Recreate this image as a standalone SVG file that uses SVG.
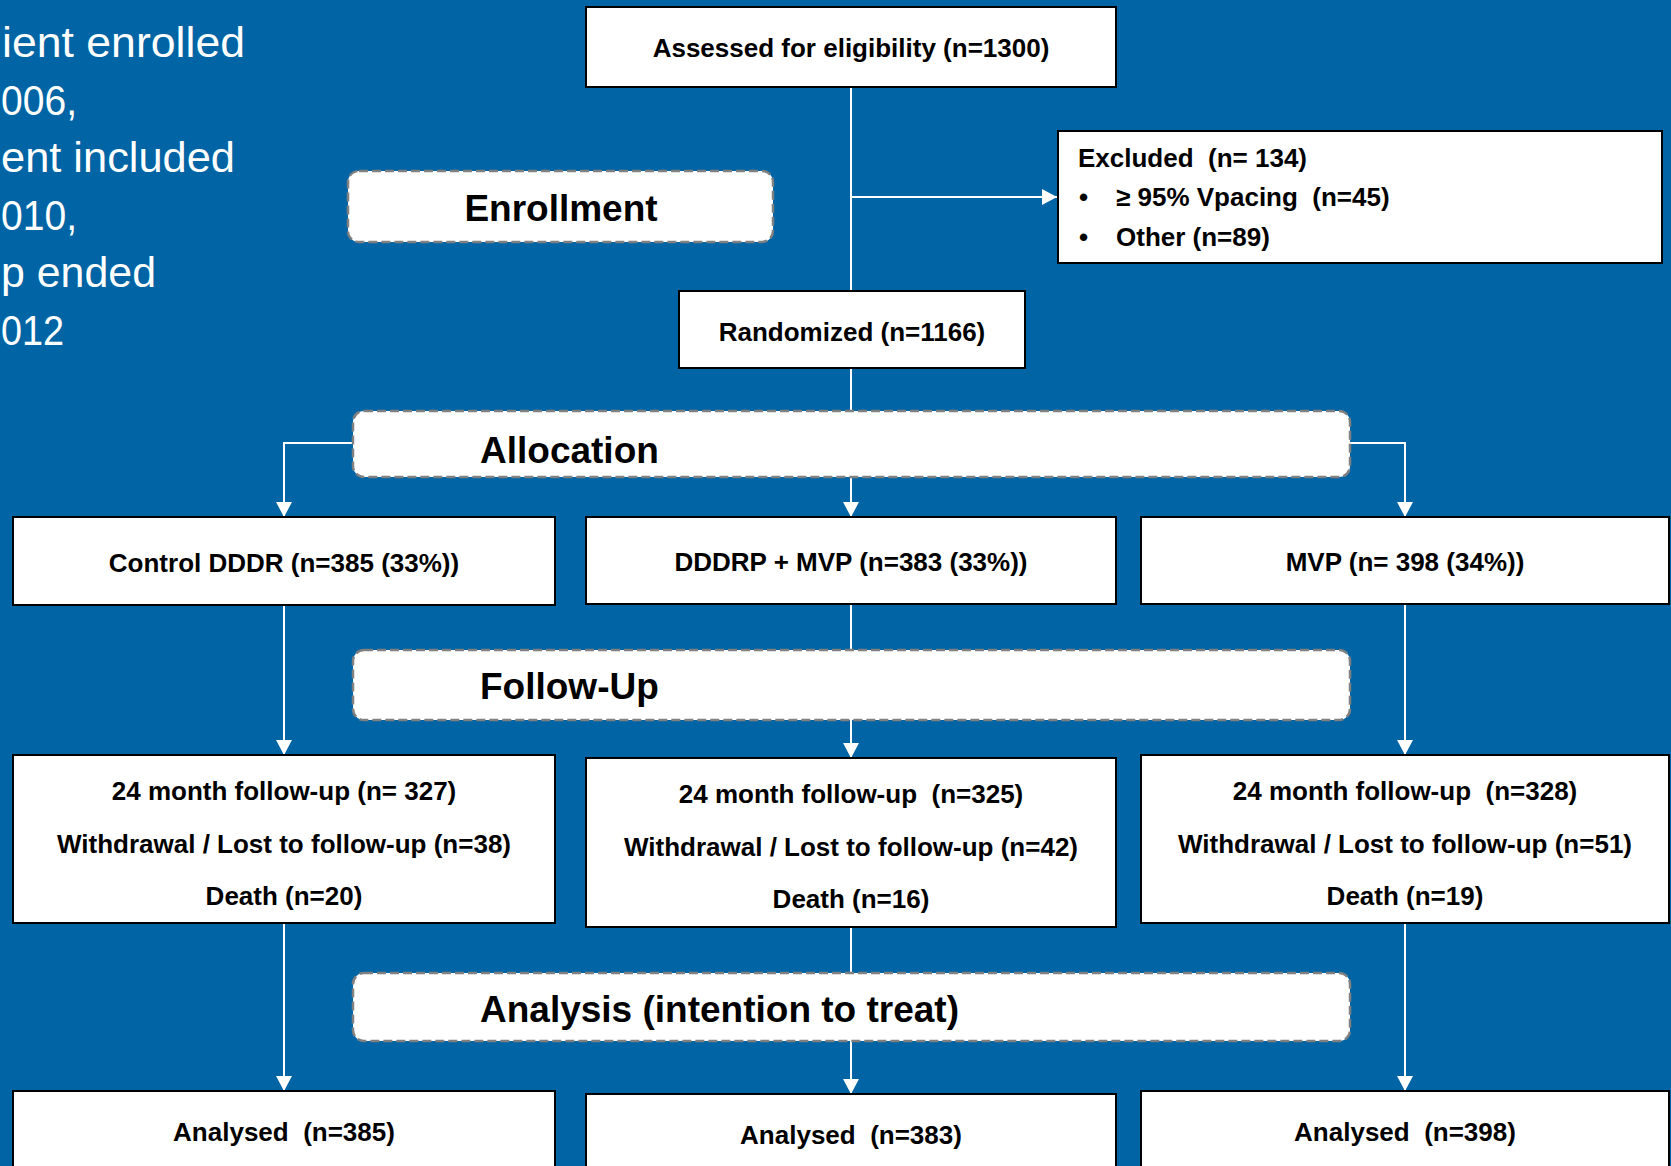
<svg xmlns="http://www.w3.org/2000/svg" width="1671" height="1166" viewBox="0 0 1671 1166">
<defs>
<style>
.bg{fill:#0064A5}
.box{fill:#fff;stroke:#000;stroke-width:2}
.sec{fill:#fff;stroke:#808080;stroke-width:2.5;stroke-dasharray:9 4}
.t{font-family:"Liberation Sans",Arial,sans-serif;font-weight:bold;font-size:26px;fill:#000;white-space:pre}
.c{text-anchor:middle}
.h{font-family:"Liberation Sans",Arial,sans-serif;font-weight:bold;font-size:37px;fill:#000}
.side{font-family:"Liberation Sans",Arial,sans-serif;font-size:42px;fill:#fff}
.ln{stroke:#fff;stroke-width:2;fill:none}
</style>
<marker id="ah" markerUnits="userSpaceOnUse" markerWidth="16" markerHeight="16" refX="15" refY="8" orient="auto">
<path d="M0,0 L15,8 L0,16 Z" fill="#fff"/>
</marker>
</defs>
<rect class="bg" x="0" y="0" width="1671" height="1166"/>

<g id="side-text">
<text class="side" x="2" y="57" textLength="243" lengthAdjust="spacingAndGlyphs">ient enrolled</text>
<text class="side" x="1" y="115" textLength="76" lengthAdjust="spacingAndGlyphs">006,</text>
<text class="side" x="1" y="172" textLength="234" lengthAdjust="spacingAndGlyphs">ent included</text>
<text class="side" x="1" y="230" textLength="76" lengthAdjust="spacingAndGlyphs">010,</text>
<text class="side" x="1" y="287" textLength="155" lengthAdjust="spacingAndGlyphs">p ended</text>
<text class="side" x="1" y="345" textLength="63" lengthAdjust="spacingAndGlyphs">012</text>
</g>

<g id="connectors">
<line class="ln" x1="851" y1="87" x2="851" y2="291"/>
<line class="ln" x1="851" y1="197" x2="1057" y2="197" marker-end="url(#ah)"/>
<line class="ln" x1="851" y1="368" x2="851" y2="517" marker-end="url(#ah)"/>
<polyline class="ln" points="353,443 284,443 284,517" marker-end="url(#ah)"/>
<polyline class="ln" points="1350,443 1405,443 1405,517" marker-end="url(#ah)"/>
<line class="ln" x1="284" y1="605" x2="284" y2="755" marker-end="url(#ah)"/>
<line class="ln" x1="851" y1="604" x2="851" y2="758" marker-end="url(#ah)"/>
<line class="ln" x1="1405" y1="604" x2="1405" y2="755" marker-end="url(#ah)"/>
<line class="ln" x1="284" y1="923" x2="284" y2="1091" marker-end="url(#ah)"/>
<line class="ln" x1="851" y1="927" x2="851" y2="1094" marker-end="url(#ah)"/>
<line class="ln" x1="1405" y1="923" x2="1405" y2="1091" marker-end="url(#ah)"/>
</g>

<g id="enrollment">
<rect class="sec" x="348" y="171" width="425" height="71" rx="11"/>
<text class="h c" x="561" y="221">Enrollment</text>
</g>
<g id="allocation">
<rect class="sec" x="353" y="411" width="997" height="66" rx="11"/>
<text class="h" x="480" y="463">Allocation</text>
</g>
<g id="followup">
<rect class="sec" x="353" y="650" width="997" height="70" rx="11"/>
<text class="h" x="480" y="699">Follow-Up</text>
</g>
<g id="analysis">
<rect class="sec" x="353" y="973" width="997" height="68" rx="11"/>
<text class="h" x="480" y="1022">Analysis (intention to treat)</text>
</g>

<g id="assessed">
<rect class="box" x="586" y="7" width="530" height="80"/>
<text class="t c" x="851" y="57">Assessed for eligibility (n=1300)</text>
</g>
<g id="excluded">
<rect class="box" x="1058" y="131" width="604" height="132"/>
<text class="t" x="1078" y="167" xml:space="preserve">Excluded  (n= 134)</text>
<text class="t" x="1079" y="206">•</text>
<text class="t" x="1116" y="206" xml:space="preserve">≥ 95% Vpacing  (n=45)</text>
<text class="t" x="1079" y="246">•</text>
<text class="t" x="1116" y="246">Other (n=89)</text>
</g>
<g id="randomized">
<rect class="box" x="679" y="291" width="346" height="77"/>
<text class="t c" x="852" y="341">Randomized (n=1166)</text>
</g>

<g id="control">
<rect class="box" x="13" y="517" width="542" height="88"/>
<text class="t c" x="284" y="572">Control DDDR (n=385 (33%))</text>
</g>
<g id="dddrp">
<rect class="box" x="586" y="517" width="530" height="87"/>
<text class="t c" x="851" y="571">DDDRP + MVP (n=383 (33%))</text>
</g>
<g id="mvp">
<rect class="box" x="1141" y="517" width="528" height="87"/>
<text class="t c" x="1405" y="571">MVP (n= 398 (34%))</text>
</g>

<g id="fu-control">
<rect class="box" x="13" y="755" width="542" height="168"/>
<text class="t c" x="284" y="800">24 month follow-up (n= 327)</text>
<text class="t c" x="284" y="853">Withdrawal / Lost to follow-up (n=38)</text>
<text class="t c" x="284" y="905">Death (n=20)</text>
</g>
<g id="fu-dddrp">
<rect class="box" x="586" y="758" width="530" height="169"/>
<text class="t c" x="851" y="803" xml:space="preserve">24 month follow-up  (n=325)</text>
<text class="t c" x="851" y="856">Withdrawal / Lost to follow-up (n=42)</text>
<text class="t c" x="851" y="908">Death (n=16)</text>
</g>
<g id="fu-mvp">
<rect class="box" x="1141" y="755" width="528" height="168"/>
<text class="t c" x="1405" y="800" xml:space="preserve">24 month follow-up  (n=328)</text>
<text class="t c" x="1405" y="853">Withdrawal / Lost to follow-up (n=51)</text>
<text class="t c" x="1405" y="905">Death (n=19)</text>
</g>

<g id="an-control">
<rect class="box" x="13" y="1091" width="542" height="90"/>
<text class="t c" x="284" y="1141" xml:space="preserve">Analysed  (n=385)</text>
</g>
<g id="an-dddrp">
<rect class="box" x="586" y="1094" width="530" height="90"/>
<text class="t c" x="851" y="1144" xml:space="preserve">Analysed  (n=383)</text>
</g>
<g id="an-mvp">
<rect class="box" x="1141" y="1091" width="528" height="90"/>
<text class="t c" x="1405" y="1141" xml:space="preserve">Analysed  (n=398)</text>
</g>
</svg>
